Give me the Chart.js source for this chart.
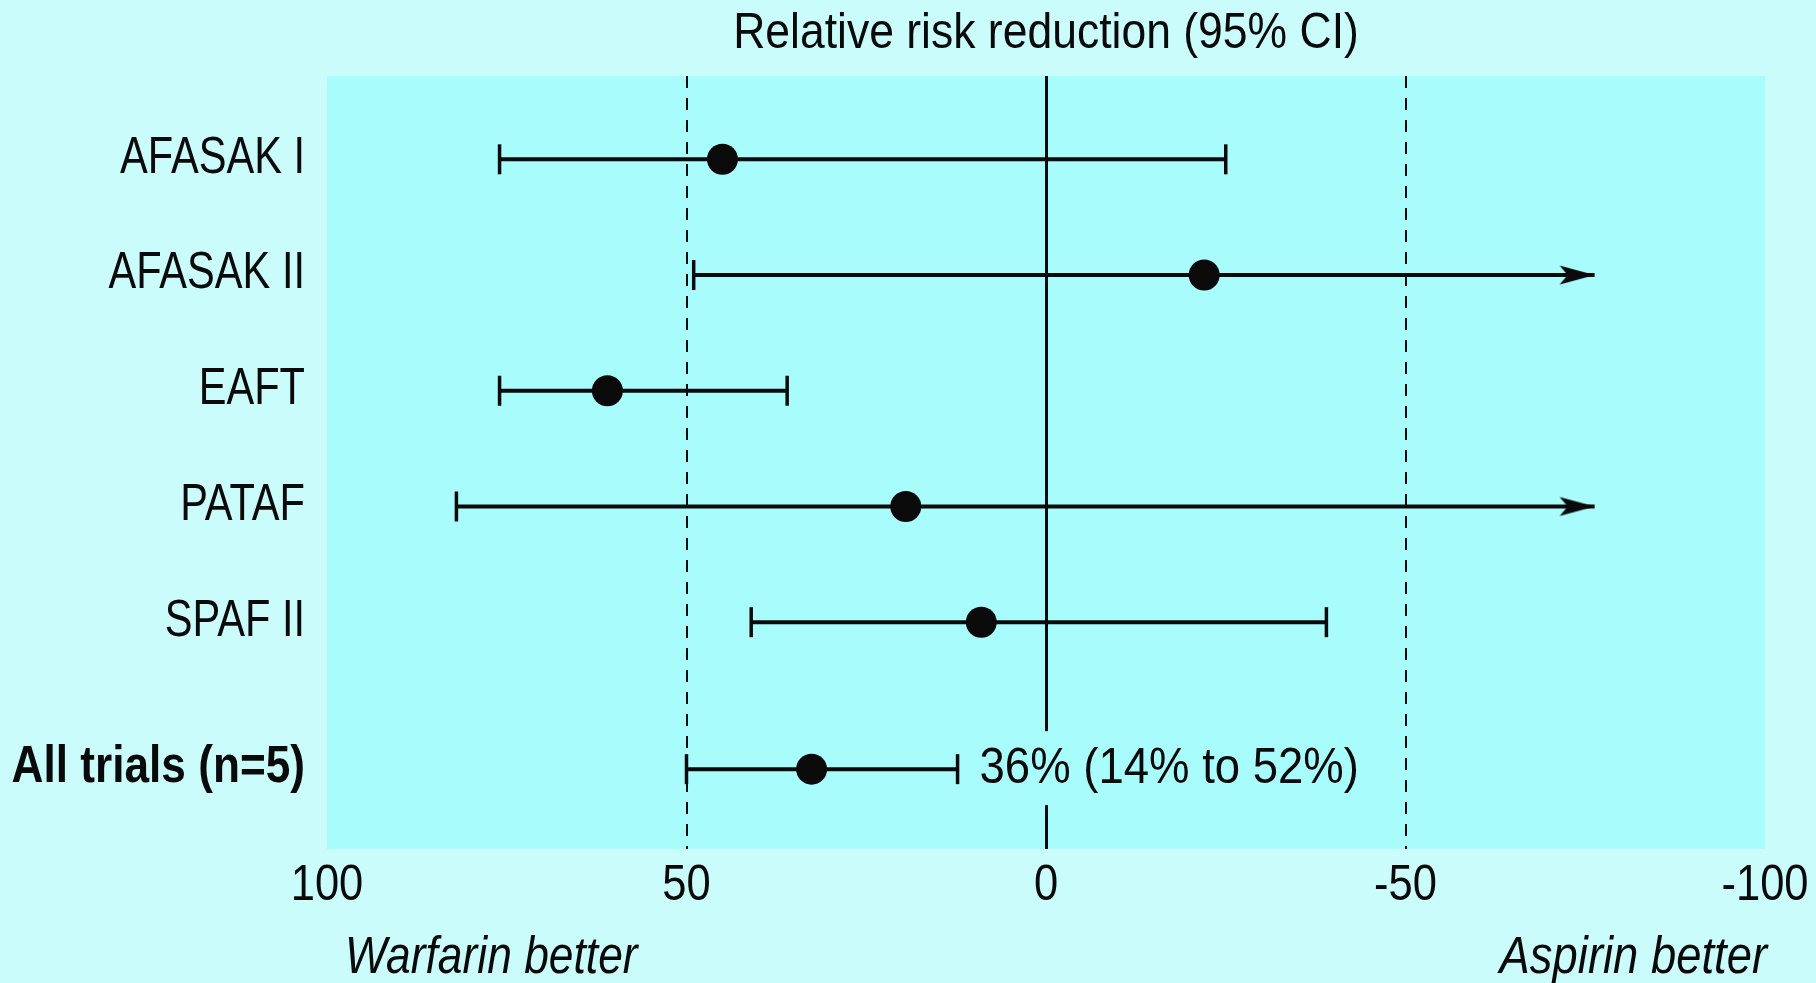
<!DOCTYPE html>
<html>
<head>
<meta charset="utf-8">
<title>Relative risk reduction (95% CI)</title>
<script src="https://cdn.jsdelivr.net/npm/chart.js@4.4.0/dist/chart.umd.min.js"></script>
<style>
  html, body { margin: 0; padding: 0; background: #cbfcfc; }
  #wrap { width: 1816px; height: 983px; }
</style>
</head>
<body>
<div id="wrap"><canvas id="forest"></canvas></div>
<script>
// trials, top to bottom (y position of each row)
const trials = ['AFASAK I', 'AFASAK II', 'EAFT', 'PATAF', 'SPAF II', 'All trials (n=5)'];
const rowPos = [1, 2, 3, 4, 5, 6.27];
// relative risk reduction in %, positive = warfarin better
const estimate = [45, -22, 61, 19.5, 9, 32.6];
const ciLow = [76, 49, 76, 82, 41, 50];
const ciHigh = [-25, -76.3, 36, -76.3, -39, 12.3];
const openEnded = [false, true, false, true, false, false];
const xTicks = [100, 50, 0, -50, -100];
const summaryText = '36% (14% to 52%)';

// no condensed face installed, so text is squeezed horizontally
const FAMILY = "'Liberation Sans', Arial, sans-serif";
const INK = '#0a0a0a';
const PLOT_BG = '#a8fcfc';

function squeezed(ctx, text, x, y, font, sx, align) {
    ctx.save();
    ctx.font = font;
    ctx.textAlign = align;
    ctx.textBaseline = 'middle';
    ctx.fillStyle = INK;
    ctx.translate(x, y);
    ctx.scale(sx, 1);
    ctx.fillText(text, 0, 0);
    ctx.restore();
}

// arrow head used as point style, tip sits at the centre of the canvas
function makeArrow() {
    const c = document.createElement('canvas');
    c.width = 72;
    c.height = 22;
    const g = c.getContext('2d');
    g.fillStyle = INK;
    g.beginPath();
    g.moveTo(36, 11);
    g.lineTo(1, 1.5);
    g.lineTo(9, 11);
    g.lineTo(1, 20.5);
    g.closePath();
    g.fill();
    return c;
}
const arrow = makeArrow();

const ciSets = trials.map((name, i) => ({
    label: name,
    data: [{x: ciLow[i], y: rowPos[i]}, {x: ciHigh[i], y: rowPos[i]}],
    showLine: true,
    borderColor: INK,
    borderWidth: 4,
    pointStyle: ['line', openEnded[i] ? arrow : 'line'],
    pointRotation: [90, openEnded[i] ? 0 : 90],
    pointRadius: 15,
    pointBorderColor: INK,
    pointBorderWidth: 3.5,
    order: 1
}));

const pointSet = {
    label: 'estimate',
    data: estimate.map((v, i) => ({x: v, y: rowPos[i]})),
    pointStyle: 'circle',
    pointRadius: 15.5,
    backgroundColor: INK,
    borderColor: INK,
    borderWidth: 0,
    order: 0
};

const background = {
    id: 'background',
    beforeDraw(chart) {
        const {ctx, chartArea: a} = chart;
        ctx.save();
        ctx.fillStyle = '#cbfcfc';
        ctx.fillRect(0, 0, chart.width, chart.height);
        ctx.fillStyle = PLOT_BG;
        ctx.fillRect(a.left, a.top, a.right - a.left, a.bottom - a.top);
        ctx.restore();
    }
};

const labels = {
    id: 'labels',
    afterDatasetsDraw(chart) {
        const {ctx, chartArea: a, scales} = chart;
        const last = rowPos.length - 1;

        // title over the plot area
        squeezed(ctx, 'Relative risk reduction (95% CI)', (a.left + a.right) / 2, 34,
            `50px ${FAMILY}`, 0.89, 'center');

        // row labels at the y scale ticks
        scales.y.ticks.forEach(t => {
            const i = rowPos.indexOf(t.value);
            const bold = i === last;
            squeezed(ctx, trials[i], a.left - 22, scales.y.getPixelForValue(t.value) - 1,
                `${bold ? 'bold ' : ''}52px ${FAMILY}`, bold ? 0.85 : 0.8, 'right');
        });

        // x tick labels
        scales.x.ticks.forEach(t => {
            squeezed(ctx, String(t.value), scales.x.getPixelForValue(t.value), a.bottom + 37,
                `50px ${FAMILY}`, 0.87, 'center');
        });

        // summary text, blanks out the zero line behind it
        const tx = scales.x.getPixelForValue(ciHigh[last]) + 22;
        const ty = scales.y.getPixelForValue(rowPos[last]);
        ctx.save();
        ctx.font = `50px ${FAMILY}`;
        const w = ctx.measureText(summaryText).width * 0.91;
        ctx.fillStyle = PLOT_BG;
        ctx.fillRect(tx - 4, ty - 38, w + 8, 74);
        ctx.restore();
        squeezed(ctx, summaryText, tx, ty, `50px ${FAMILY}`, 0.91, 'left');

        squeezed(ctx, 'Warfarin better', a.left + 18, 959, `italic 51px ${FAMILY}`, 0.87, 'left');
        squeezed(ctx, 'Aspirin better', a.right + 2, 959, `italic 51px ${FAMILY}`, 0.89, 'right');
    }
};

const ctx = document.getElementById('forest').getContext('2d');
const chart = new Chart(ctx, {
    type: 'scatter',
    data: { datasets: [pointSet, ...ciSets] },
    options: {
        responsive: true,
        maintainAspectRatio: false,
        animation: false,
        layout: { padding: { left: 0, right: 51, top: 76, bottom: 0 } },
        plugins: {
            legend: { display: false },
            tooltip: { enabled: false },
            title: { display: false }
        },
        scales: {
            x: {
                type: 'linear',
                min: -100,
                max: 100,
                reverse: true,
                afterBuildTicks: s => { s.ticks = xTicks.map(v => ({value: v})); },
                afterFit: s => { s.height = 134; },
                ticks: { display: false },
                grid: {
                    drawTicks: false,
                    color: c => (c.tick && Math.abs(c.tick.value) === 100 ? 'rgba(0,0,0,0)' : INK),
                    lineWidth: c => (c.tick && c.tick.value === 0 ? 3 : 2)
                },
                border: {
                    display: false,
                    dash: c => (c.tick && c.tick.value !== 0 ? [12, 10] : [])
                }
            },
            y: {
                type: 'linear',
                min: 0.28,
                max: 6.96,
                reverse: true,
                afterBuildTicks: s => { s.ticks = rowPos.map(v => ({value: v})); },
                afterFit: s => { s.width = 327; },
                ticks: { display: false },
                grid: { display: false },
                border: { display: false }
            }
        }
    },
    plugins: [background, labels]
});
</script>
</body>
</html>
